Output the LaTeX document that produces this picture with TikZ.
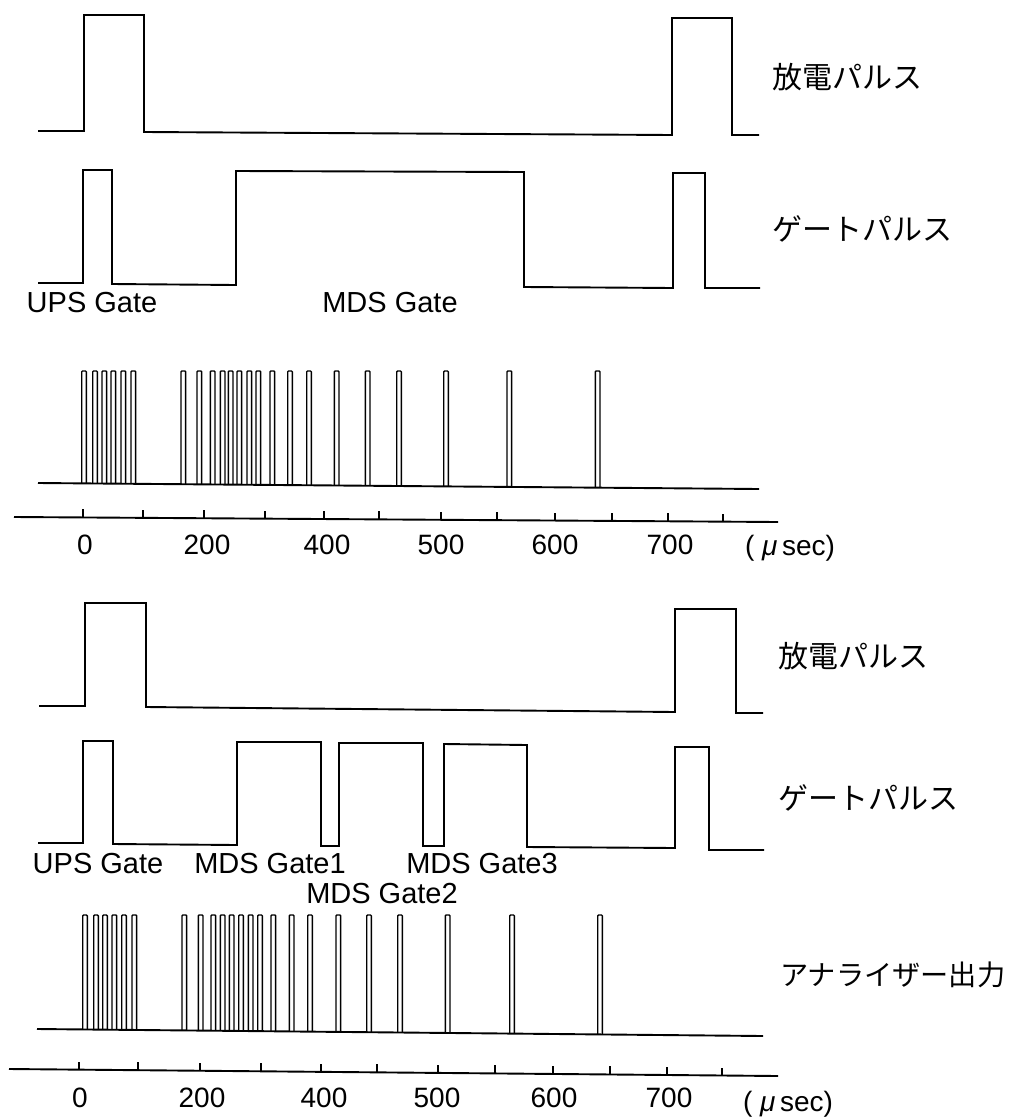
\documentclass[tikz,border=0pt]{standalone}
\usepackage{fontspec}
\setmainfont{Liberation Sans}
\newfontfamily\jpfont{Noto Sans CJK JP}
\begin{document}
\begin{tikzpicture}[x=1pt,y=-1pt,
  wave/.style={line width=1.9pt, line join=miter},
  spike/.style={line width=1.4pt, rounded corners=0.8pt},
  axisline/.style={line width=1.9pt},
  jlbl/.style={font=\jpfont\fontsize{30}{30}\selectfont, inner sep=0pt, anchor=west},
  glbl/.style={font=\fontsize{29}{29}\selectfont, inner sep=0pt, anchor=base},
  num/.style={font=\fontsize{28}{28}\selectfont, inner sep=0pt}]
\useasboundingbox (0,0) rectangle (1014,1119);

% ================= Section 1 =================
% discharge pulse
\draw[wave] (38,131) -- (84,131) -- (84,15) -- (144,15) -- (144,132) -- (672,135)
  -- (672,18) -- (732,18) -- (732,135) -- (759,135);
% gate pulse
\draw[wave] (38,283) -- (83,283) -- (83,170) -- (112,170) -- (112,284) -- (236,285)
  -- (236,171) -- (524,172) -- (524,287) -- (673,288) -- (673,173) -- (705,173)
  -- (705,288) -- (760,288);
\node[glbl] (ups1) at (92,312) {UPS Gate};
\node[glbl] (mds1) at (390,312) {MDS Gate};
\node[jlbl] (dis1) at (772,77) {放電パルス};
\node[jlbl] (gate1) at (772,229) {ゲートパルス};

% analyser spikes
\draw[wave] (38,483) -- (759,489);
\foreach \x in {84,95,104.3,113.3,123.3,133.3,183.3,199.3,212.7,222.7,230.7,239.3,249.3,258.3,272.3,290,309,336.7,367.7,399,446,509.3,597.7}{
  \pgfmathsetmacro\by{483+(\x-38)*6/721}
  \draw[spike] ({\x-2.3},\by) -- ({\x-2.3},371) -- ({\x+2.3},371) -- ({\x+2.3},\by);
}
% time axis
\draw[axisline] (14,517) -- (778,522);
\foreach \x in {83.3,143.3,204,265,324.3,379.3,440.7,496.7,555,612.3,668.3,722.7}{
  \pgfmathsetmacro\ay{517+(\x-14)*5/764}
  \draw[axisline] (\x,\ay) -- (\x,{\ay-8});
}
\node[num] (t10) at (85,545) {0};
\node[num] (t12) at (207,545) {200};
\node[num] (t14) at (327,545) {400};
\node[num] (t15) at (441,545) {500};
\node[num] (t16) at (555,545) {600};
\node[num] (t17) at (670,545) {700};
\node[num] (u1) at (790,548) {(\;{\itshape μ}\,sec)};

% ================= Section 2 =================
\draw[wave] (39,706) -- (85,706) -- (85,603) -- (146,603) -- (146,707) -- (675,712)
  -- (675,609) -- (736,609) -- (736,713) -- (763,713);
\draw[wave] (38,843) -- (83,843) -- (83,741) -- (113,741) -- (113,844) -- (237,845)
  -- (237,742) -- (321,742) -- (321,846) -- (339,846) -- (339,743) -- (423,743)
  -- (423,846) -- (444,846) -- (444,744) -- (527,745) -- (527,847) -- (675,848)
  -- (675,747) -- (709,747) -- (709,850) -- (764,850);
\node[glbl] (ups2) at (98,873) {UPS Gate};
\node[glbl] (mdsg1) at (270,873) {MDS Gate1};
\node[glbl] (mdsg3) at (482,873) {MDS Gate3};
\node[glbl] (mdsg2) at (382,903) {MDS Gate2};
\node[jlbl] (dis2) at (778,656) {放電パルス};
\node[jlbl] (gate2) at (778,798) {ゲートパルス};
\node[jlbl, font=\jpfont\fontsize{28.2}{28.2}\selectfont] (ana) at (780,975) {アナライザー出力};

\draw[wave] (37,1029) -- (763,1036);
\foreach \x in {85,96,105,114.3,124,134.3,184.3,200.7,213.3,222.7,231.7,241,250.7,260,273.3,291.7,310,338.3,369,400,447.7,512,600}{
  \pgfmathsetmacro\by{1029+(\x-37)*7/726}
  \draw[spike] ({\x-2.3},\by) -- ({\x-2.3},915) -- ({\x+2.3},915) -- ({\x+2.3},\by);
}
\draw[axisline] (9,1069) -- (778,1076);
\foreach \x in {79,138.3,200,261,320.7,376.7,437.7,495,552.7,610,667.3,721.7}{
  \pgfmathsetmacro\ay{1069+(\x-9)*7/769}
  \draw[axisline] (\x,\ay) -- (\x,{\ay-8});
}
\node[num] (t20) at (80,1098) {0};
\node[num] (t22) at (202,1098) {200};
\node[num] (t24) at (324,1098) {400};
\node[num] (t25) at (437,1098) {500};
\node[num] (t26) at (554,1098) {600};
\node[num] (t27) at (669,1098) {700};
\node[num] (u2) at (788,1104) {(\;{\itshape μ}\,sec)};
\end{tikzpicture}
\end{document}
